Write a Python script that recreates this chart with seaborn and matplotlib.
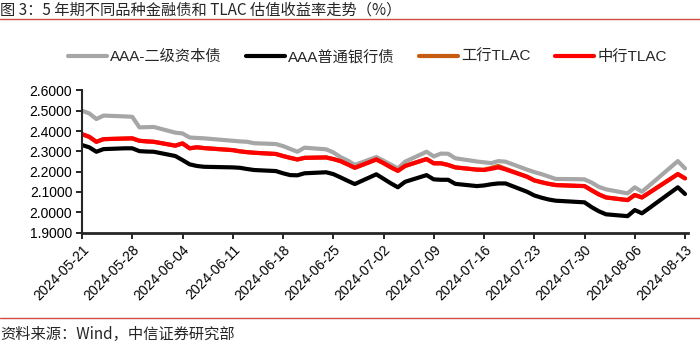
import matplotlib
matplotlib.use("Agg")
import matplotlib.pyplot as plt
import matplotlib.dates as mdates
from matplotlib.lines import Line2D
import seaborn as sns
import pandas as pd
import numpy as np

dates = ["2024-05-21","2024-05-22","2024-05-23","2024-05-24","2024-05-27","2024-05-28","2024-05-29","2024-05-30","2024-05-31",
         "2024-06-03","2024-06-04","2024-06-05","2024-06-06","2024-06-07","2024-06-11","2024-06-12","2024-06-13","2024-06-14",
         "2024-06-17","2024-06-18","2024-06-19","2024-06-20","2024-06-21","2024-06-24","2024-06-25","2024-06-26","2024-06-27","2024-06-28",
         "2024-07-01","2024-07-02","2024-07-03","2024-07-04","2024-07-05","2024-07-08","2024-07-09","2024-07-10","2024-07-11","2024-07-12",
         "2024-07-15","2024-07-16","2024-07-17","2024-07-18","2024-07-19","2024-07-22","2024-07-23","2024-07-24","2024-07-25","2024-07-26",
         "2024-07-29","2024-07-30","2024-07-31","2024-08-01","2024-08-02","2024-08-05","2024-08-06","2024-08-07","2024-08-08","2024-08-09",
         "2024-08-12","2024-08-13"]

tier2 = [2.500,2.487,2.459,2.476,2.472,2.470,2.418,2.419,2.420,
         2.392,2.388,2.368,2.366,2.364,2.352,2.349,2.347,2.340,
         2.336,2.326,2.312,2.298,2.318,2.310,2.295,2.272,2.255,2.233,
         2.272,2.254,2.235,2.216,2.249,2.298,2.275,2.289,2.288,2.266,
         2.250,2.246,2.242,2.252,2.249,2.210,2.198,2.188,2.176,2.164,
         2.163,2.162,2.146,2.125,2.113,2.093,2.123,2.101,2.131,2.161,
         2.252,2.216]

bank = [2.331,2.320,2.298,2.311,2.315,2.315,2.301,2.299,2.298,
        2.277,2.257,2.236,2.228,2.224,2.221,2.219,2.213,2.208,
        2.203,2.192,2.183,2.182,2.192,2.197,2.188,2.172,2.155,2.139,
        2.187,2.165,2.143,2.123,2.150,2.183,2.162,2.160,2.160,2.140,
        2.129,2.132,2.138,2.142,2.142,2.101,2.083,2.072,2.063,2.057,
        2.051,2.049,2.025,2.005,1.990,1.981,2.011,1.995,2.020,2.046,
        2.123,2.090]

icbc = [2.384,2.371,2.347,2.360,2.363,2.364,2.352,2.349,2.347,
        2.328,2.339,2.315,2.320,2.316,2.306,2.300,2.296,2.293,
        2.287,2.277,2.268,2.260,2.268,2.270,2.262,2.252,2.236,2.219,
        2.260,2.242,2.222,2.204,2.228,2.262,2.241,2.241,2.233,2.221,
        2.210,2.210,2.218,2.228,2.214,2.175,2.157,2.148,2.140,2.134,
        2.130,2.129,2.108,2.088,2.073,2.060,2.085,2.073,2.096,2.119,
        2.188,2.167]

boc = [2.385,2.372,2.347,2.360,2.363,2.364,2.352,2.349,2.347,
       2.328,2.339,2.315,2.320,2.316,2.306,2.300,2.296,2.293,
       2.287,2.277,2.268,2.260,2.268,2.270,2.262,2.252,2.236,2.219,
       2.260,2.242,2.222,2.204,2.228,2.262,2.241,2.241,2.233,2.221,
       2.210,2.208,2.214,2.221,2.211,2.175,2.157,2.148,2.140,2.134,
       2.130,2.129,2.108,2.088,2.073,2.060,2.085,2.073,2.096,2.119,
       2.188,2.167]

series_names = ["AAA-二级资本债", "AAA普通银行债", "工行TLAC", "中行TLAC"]
colors = ["#A6A6A6", "#000000", "#C55A11", "#FF0000"]
tick_dates = ["2024-05-21","2024-05-28","2024-06-04","2024-06-11","2024-06-18","2024-06-25","2024-07-02",
              "2024-07-09","2024-07-16","2024-07-23","2024-07-30","2024-08-06","2024-08-13"]
yticks = [1.9, 2.0, 2.1, 2.2, 2.3, 2.4, 2.5, 2.6]

sns.set_style("ticks")
plt.rcParams["font.family"] = ["Liberation Sans", "Noto Sans CJK SC"]

d = pd.to_datetime(dates)
frames = []
for name, vals in zip(series_names, [tier2, bank, icbc, boc]):
    frames.append(pd.DataFrame({"date": d, "value": vals, "series": name}))
df = pd.concat(frames, ignore_index=True)

fig = plt.figure(figsize=(7.0, 3.48), dpi=100)
ax = fig.add_axes([82/700, 1 - 232.6/348, (688 - 82)/700, (232.6 - 90.4)/348])

sns.lineplot(data=df, x="date", y="value", hue="series", hue_order=series_names,
             palette=colors, linewidth=3.0, ax=ax, legend=False, estimator=None)

ax.set_ylim(1.9, 2.6)
ax.set_yticks(yticks)
ax.set_yticklabels([f"{v:.4f}" for v in yticks], fontsize=10)
xt = pd.to_datetime(tick_dates)
ax.set_xlim(xt[0], xt[-1] + pd.Timedelta(hours=10))
ax.set_xticks(xt)
ax.set_xticklabels(tick_dates, rotation=45, ha="right", rotation_mode="anchor", fontsize=10)
ax.set_xlabel("")
ax.set_ylabel("")
for s in ["top", "right"]:
    ax.spines[s].set_visible(False)
ax.spines["left"].set_linewidth(1.5)
ax.spines["bottom"].set_linewidth(2.0)
ax.tick_params(axis="both", direction="out", length=4, width=1.2, colors="black", pad=3)

handles = [Line2D([0], [0], color=c, lw=3.0) for c in colors]
fig.legend(handles, series_names, loc="center", bbox_to_anchor=(0.525, 0.836), ncol=4,
           frameon=False, fontsize=11, handlelength=2.55, columnspacing=1.6, handletextpad=0.2)

fig.text(0.0, 1 - 10/348, "图 3：5 年期不同品种金融债和 TLAC 估值收益率走势（%）",
         fontsize=11, va="center", ha="left", family=["Noto Sans CJK SC", "DejaVu Sans"])
fig.add_artist(Line2D([0, 1], [1 - 19/348, 1 - 19/348], color="#D24B4B", lw=1.0, transform=fig.transFigure))
fig.add_artist(Line2D([0, 1], [1 - 318/348, 1 - 318/348], color="#D24B4B", lw=1.0, transform=fig.transFigure))
fig.text(0.0, 1 - 334/348, "资料来源：Wind，中信证券研究部",
         fontsize=11, va="center", ha="left", family=["Noto Sans CJK SC", "DejaVu Sans"])

fig.savefig("out.png", dpi=100)
